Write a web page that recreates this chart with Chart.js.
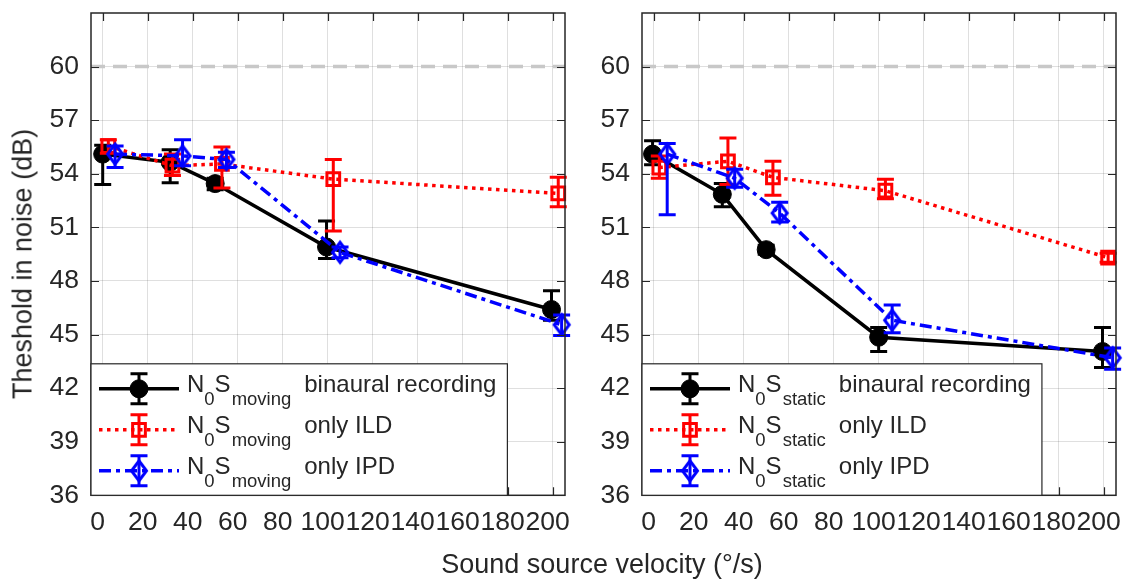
<!DOCTYPE html>
<html>
<head>
<meta charset="utf-8">
<script src="https://cdn.jsdelivr.net/npm/chart.js@4.4.0/dist/chart.umd.min.js"></script>
<style>
  html, body { margin: 0; padding: 0; background: #fff; }
  #wrap { position: relative; width: 1129px; height: 580px; overflow: hidden; }
  #left { position: absolute; left: 0; top: 0; }
  #right { position: absolute; left: 600px; top: 0; }
  .lbl { position: absolute; font-family: 'Liberation Sans', Arial, sans-serif; color: #262626; white-space: nowrap; }
  #ytitle { left: 23px; top: 264px; font-size: 27px; line-height: 27px; transform: translate(-50%, -50%) rotate(-90deg); }
  #xtitle { left: 302px; width: 600px; top: 549px; font-size: 27px; line-height: 30px; text-align: center; }
</style>
</head>
<body>
<div id="wrap">
  <canvas id="left" width="600" height="580"></canvas>
  <canvas id="right" width="529" height="580"></canvas>
  <div class="lbl" id="ytitle">Theshold in noise (dB)</div>
  <div class="lbl" id="xtitle">Sound source velocity (°/s)</div>
</div>
<script>
"use strict";

const FONT = "'Liberation Sans', Arial, sans-serif";
const INK = '#262626';

const xTicks = [0, 20, 40, 60, 80, 100, 120, 140, 160, 180, 200];
const yTicks = [36, 39, 42, 45, 48, 51, 54, 57, 60];
const refLevel = 60;

// left panel: moving target
const movBinX = [0, 30, 50, 99.5, 199.5];
const movBinY = [55.1, 54.65, 53.45, 49.9, 46.4];
const movBinLo = [53.4, 53.5, 53.1, 49.25, 45.8];
const movBinHi = [55.6, 55.35, 53.75, 51.35, 47.45];

const movIldX = [2.5, 31, 53, 102.5, 202.5];
const movIldY = [55.55, 54.45, 54.55, 53.7, 52.9];
const movIldLo = [55.15, 53.9, 53.2, 50.8, 52.15];
const movIldHi = [55.9, 55.1, 55.5, 54.8, 53.8];

const movIpdX = [5.5, 35.5, 55, 105.5, 204];
const movIpdY = [55.1, 55.0, 54.8, 49.6, 45.55];
const movIpdLo = [54.35, 54.45, 54.35, 49.3, 44.95];
const movIpdHi = [55.55, 55.9, 55.2, 49.9, 46.1];

// right panel: static target
const staBinX = [-0.5, 30.5, 50, 100, 199.5];
const staBinY = [55.1, 52.85, 49.75, 44.85, 44.05];
const staBinLo = [54.5, 52.15, 49.5, 44.05, 43.15];
const staBinHi = [55.85, 53.45, 50.0, 45.4, 45.4];

const staIldX = [2.5, 33, 53, 103, 202];
const staIldY = [54.35, 54.7, 53.8, 53.05, 49.3];
const staIldLo = [53.75, 53.4, 52.8, 52.6, 49.05];
const staIldHi = [55.0, 56.0, 54.7, 53.7, 49.55];

const staIpdX = [6, 36, 56, 106, 204];
const staIpdY = [55.1, 53.75, 51.8, 45.8, 43.7];
const staIpdLo = [51.7, 53.25, 51.3, 45.1, 43.05];
const staIpdHi = [55.7, 54.25, 52.4, 46.65, 44.25];

const legendTail = ['binaural recording', 'only ILD', 'only IPD'];

// hollow diamond, a bit taller than wide like the MATLAB marker
const diamond = document.createElement('canvas');
diamond.width = 22;
diamond.height = 28;
(() => {
  const c = diamond.getContext('2d');
  c.strokeStyle = '#0000ff';
  c.lineWidth = 3;
  c.beginPath();
  c.moveTo(11, 4);
  c.lineTo(18.5, 14);
  c.lineTo(11, 24);
  c.lineTo(3.5, 14);
  c.closePath();
  c.stroke();
})();

const styles = [
  { color: '#000000', dash: [], pointStyle: 'circle', radius: 9, fill: '#000000', pw: 1 },
  { color: '#ff0000', dash: [3.5, 4.5], pointStyle: 'rect', radius: 9, fill: 'rgba(0,0,0,0)', pw: 3 },
  { color: '#0000ff', dash: [12, 5, 4, 5], pointStyle: diamond, radius: 10, fill: 'rgba(0,0,0,0)', pw: 3 }
];

function makeSet(idx, xs, ys, lo, hi) {
  const s = styles[idx];
  return {
    data: xs.map((x, i) => ({ x: x, y: ys[i] })),
    errLo: lo,
    errHi: hi,
    borderColor: s.color,
    borderWidth: 3.5,
    borderDash: s.dash,
    pointStyle: s.pointStyle,
    pointRadius: s.radius,
    pointBackgroundColor: s.fill,
    pointBorderColor: s.color,
    pointBorderWidth: s.pw,
    tension: 0,
    clip: false,
    order: 3 - idx
  };
}

function drawErrorBar(ctx, px, top, bot) {
  ctx.beginPath();
  ctx.moveTo(px, top); ctx.lineTo(px, bot);
  ctx.moveTo(px - 8.5, top); ctx.lineTo(px + 8.5, top);
  ctx.moveTo(px - 8.5, bot); ctx.lineTo(px + 8.5, bot);
  ctx.stroke();
}

const errorBars = {
  id: 'errorBars',
  beforeDatasetDraw(chart, args) {
    const ds = chart.data.datasets[args.index];
    const { x, y } = chart.scales;
    const ctx = chart.ctx;
    ctx.save();
    ctx.strokeStyle = ds.borderColor;
    ctx.lineWidth = 3;
    ds.data.forEach((p, i) => {
      drawErrorBar(ctx, x.getPixelForValue(p.x), y.getPixelForValue(ds.errHi[i]), y.getPixelForValue(ds.errLo[i]));
    });
    ctx.restore();
  }
};

const frame = {
  id: 'frame',
  beforeDatasetsDraw(chart) {
    const { ctx, chartArea: a } = chart;
    const py = chart.scales.y.getPixelForValue(refLevel);
    ctx.save();
    ctx.strokeStyle = '#c8c8c8';
    ctx.lineWidth = 3.5;
    ctx.setLineDash([14, 8]);
    ctx.beginPath();
    ctx.moveTo(a.left, py);
    ctx.lineTo(a.right, py);
    ctx.stroke();
    ctx.restore();
  },
  afterDatasetsDraw(chart) {
    const { ctx, chartArea: a, scales } = chart;
    ctx.save();
    ctx.strokeStyle = INK;
    ctx.lineWidth = 1.2;
    ctx.beginPath();
    yTicks.forEach(v => {
      const py = Math.round(scales.y.getPixelForValue(v)) + 0.5;
      ctx.moveTo(a.left, py); ctx.lineTo(a.left + 8, py);
      ctx.moveTo(a.right, py); ctx.lineTo(a.right - 8, py);
    });
    xTicks.forEach(v => {
      const px = Math.round(scales.x.getPixelForValue(v)) + 0.5;
      ctx.moveTo(px, a.bottom); ctx.lineTo(px, a.bottom - 8);
      ctx.moveTo(px, a.top); ctx.lineTo(px, a.top + 8);
    });
    ctx.stroke();
    ctx.lineWidth = 1.5;
    ctx.strokeRect(a.left, a.top, a.right - a.left, a.bottom - a.top);
    ctx.restore();
  },
  afterDraw(chart) {
    const { ctx, chartArea: a } = chart;
    const sub = chart.options.plugins.frame.sub;
    const mainFont = '24px ' + FONT;
    const subFont = '18.5px ' + FONT;
    const boxH = 131.5;
    const top = a.bottom - boxH;
    const rows = [25, 66, 107];
    const textX = a.left + 96;
    const gap = 13;

    // width of the longest entry
    ctx.save();
    let maxW = 0;
    legendTail.forEach(t => {
      ctx.font = mainFont;
      let w = ctx.measureText('N').width + ctx.measureText('S').width + 1 + ctx.measureText(t).width;
      ctx.font = subFont;
      w += ctx.measureText('0').width + ctx.measureText(sub).width + gap;
      maxW = Math.max(maxW, w);
    });
    const boxW = textX - a.left + maxW + 11;
    ctx.fillStyle = '#ffffff';
    ctx.fillRect(a.left, top, boxW, boxH);
    ctx.strokeStyle = INK;
    ctx.lineWidth = 1.2;
    ctx.strokeRect(a.left, top, boxW, boxH);

    chart.data.datasets.forEach((ds, i) => {
      const ry = top + rows[i];
      const x0 = a.left + 8, x1 = a.left + 88, mx = (x0 + x1) / 2;
      ctx.strokeStyle = ds.borderColor;
      ctx.lineWidth = 3.5;
      ctx.setLineDash(ds.borderDash);
      ctx.beginPath();
      ctx.moveTo(x0, ry); ctx.lineTo(x1, ry);
      ctx.stroke();
      ctx.setLineDash([]);
      ctx.lineWidth = 3;
      drawErrorBar(ctx, mx, ry - 15, ry + 15);
      ctx.fillStyle = ds.pointBackgroundColor;
      ctx.lineWidth = ds.pointBorderWidth;
      Chart.helpers.drawPoint(ctx, { pointStyle: ds.pointStyle, radius: ds.pointRadius, rotation: 0, borderWidth: ds.pointBorderWidth }, mx, ry);

      ctx.fillStyle = INK;
      ctx.textBaseline = 'alphabetic';
      let tx = textX;
      const base = ry + 3.5, subBase = ry + 16;
      ctx.font = mainFont; ctx.fillText('N', tx, base); tx += ctx.measureText('N').width;
      ctx.font = subFont; ctx.fillText('0', tx, subBase); tx += ctx.measureText('0').width;
      ctx.font = mainFont; ctx.fillText('S', tx, base); tx += ctx.measureText('S').width + 1;
      ctx.font = subFont; ctx.fillText(sub, tx, subBase); tx += ctx.measureText(sub).width + gap;
      ctx.font = mainFont; ctx.fillText(legendTail[i], tx, base);
    });
    ctx.restore();
  }
};

function makeChart(id, sets, sub, yWidth, padRight) {
  return new Chart(document.getElementById(id), {
    type: 'line',
    data: { datasets: sets },
    options: {
      responsive: false,
      animation: false,
      events: [],
      layout: { padding: { top: 9.3, right: padRight, bottom: 0, left: 0 } },
      scales: {
        x: {
          type: 'linear',
          min: -5.2,
          max: 205.5,
          afterBuildTicks: s => { s.ticks = xTicks.map(v => ({ value: v })); },
          afterFit: s => { s.height = 84.7; s.paddingLeft = 0; s.paddingRight = 0; },
          grid: { color: 'rgba(38,38,38,0.15)', lineWidth: 1, drawTicks: false },
          border: { display: false },
          ticks: { color: INK, font: { family: FONT, size: 26.5 }, padding: 11, labelOffset: -5, maxRotation: 0, autoSkip: false }
        },
        y: {
          type: 'linear',
          min: 36,
          max: 63,
          afterBuildTicks: s => { s.ticks = yTicks.map(v => ({ value: v })); },
          afterFit: s => { s.width = yWidth; s.paddingTop = 0; s.paddingBottom = 0; },
          grid: { color: 'rgba(38,38,38,0.15)', lineWidth: 1, drawTicks: false },
          border: { display: false },
          ticks: { color: INK, font: { family: FONT, size: 26.5 }, padding: 12 }
        }
      },
      plugins: {
        legend: { display: false },
        tooltip: { enabled: false },
        frame: { sub: sub }
      }
    },
    plugins: [errorBars, frame]
  });
}

makeChart('left', [
  makeSet(0, movBinX, movBinY, movBinLo, movBinHi),
  makeSet(1, movIldX, movIldY, movIldLo, movIldHi),
  makeSet(2, movIpdX, movIpdY, movIpdLo, movIpdHi)
], 'moving', 91, 35);

makeChart('right', [
  makeSet(0, staBinX, staBinY, staBinLo, staBinHi),
  makeSet(1, staIldX, staIldY, staIldLo, staIldHi),
  makeSet(2, staIpdX, staIpdY, staIpdLo, staIpdHi)
], 'static', 42, 13);
</script>
</body>
</html>
